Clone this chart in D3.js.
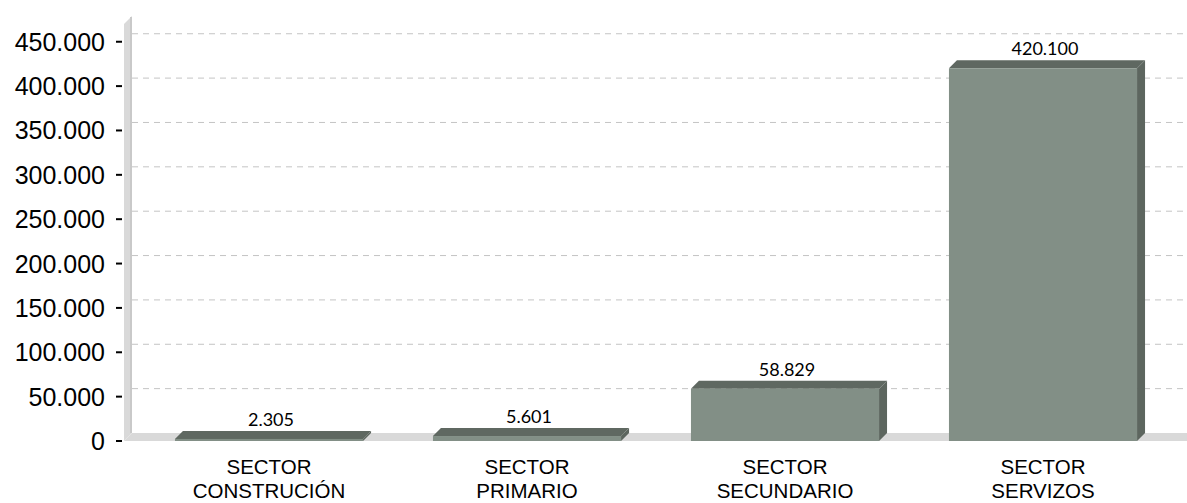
<!DOCTYPE html>
<html><head><meta charset="utf-8">
<script src="https://cdn.jsdelivr.net/npm/d3@7"></script>
<style>html,body{margin:0;padding:0;background:#fff;}svg{display:block;}</style>
</head><body>
<svg id="c" width="1187" height="503"></svg>
<script>
const categories = [["SECTOR","CONSTRUCIÓN"],["SECTOR","PRIMARIO"],["SECTOR","SECUNDARIO"],["SECTOR","SERVIZOS"]];
const values = [2305, 5601, 58829, 420100];
const valueLabels = ["2.305","5.601","58.829","420.100"];
const tickValues = [0,50000,100000,150000,200000,250000,300000,350000,400000,450000];
const tickLabels = ["0","50.000","100.000","150.000","200.000","250.000","300.000","350.000","400.000","450.000"];

const svg = d3.select("#c");
const D = 8; // depth offset
const y = d3.scaleLinear().domain([0, 470000]).range([441, 24]);
const x = d3.scaleBand().domain(d3.range(categories.length)).range([140, 1172]).paddingInner(0.271).paddingOuter(0.1355);
const wallX = 124, rightX = 1187;

// back-wall gridlines
svg.append("g").selectAll("line").data(tickValues.slice(1)).join("line")
  .attr("x1", wallX + D).attr("x2", rightX)
  .attr("y1", d => y(d) - D).attr("y2", d => y(d) - D)
  .attr("stroke", "#c4c4c4").attr("stroke-width", 1).attr("stroke-dasharray", "6,5");

// side wall
svg.append("polygon")
  .attr("points", [[wallX, y.range()[1]], [wallX + D, y.range()[1] - D], [wallX + D, y(0) - D], [wallX, y(0)]].join(" "))
  .attr("fill", "#d9d9d9");
svg.append("line").attr("x1", wallX + D - 1).attr("x2", wallX + D - 1)
  .attr("y1", y.range()[1] - D + 1).attr("y2", y(0) - D).attr("stroke", "#c9c9c9").attr("stroke-width", 2);

// floor
svg.append("polygon")
  .attr("points", [[wallX, y(0)], [wallX + D, y(0) - D], [rightX, y(0) - D], [rightX, y(0)]].join(" "))
  .attr("fill", "#d9d9d9");

// y axis ticks and labels
const ya = svg.append("g");
ya.selectAll("line").data(tickValues).join("line")
  .attr("x1", 116).attr("x2", 122).attr("y1", d => y(d)).attr("y2", d => y(d))
  .attr("stroke", "#000").attr("stroke-width", 2);
ya.selectAll("text").data(tickValues).join("text")
  .attr("x", 105).attr("y", d => y(d)).attr("dy", "0.36em")
  .attr("text-anchor", "end").attr("font-family", "Liberation Sans, Arial, sans-serif")
  .attr("font-size", 25).attr("fill", "#000")
  .text((d, i) => tickLabels[i]);

// bars
const bw = x.bandwidth();
const bars = svg.append("g").selectAll("g").data(values).join("g");
bars.append("polygon") // top
  .attr("points", (d, i) => { const x0 = x(i), x1 = x0 + bw, yv = y(d);
    return [[x0, yv], [x0 + D, yv - D], [x1 + D, yv - D], [x1, yv]].join(" "); })
  .attr("fill", "#5f6861");
bars.append("polygon") // side
  .attr("points", (d, i) => { const x1 = x(i) + bw, yv = y(d);
    return [[x1, yv], [x1 + D, yv - D], [x1 + D, y(0) - D], [x1, y(0)]].join(" "); })
  .attr("fill", "#5d665f");
bars.append("rect") // front
  .attr("x", (d, i) => x(i)).attr("width", bw)
  .attr("y", d => y(d)).attr("height", d => y(0) - y(d))
  .attr("fill", "#828f86");

// value labels
svg.append("g").selectAll("text").data(values).join("text")
  .attr("x", (d, i) => x(i) + bw / 2 + D / 2 - 2)
  .attr("y", d => y(d) - D - 5)
  .attr("text-anchor", "middle").attr("font-family", "Lato, Carlito, sans-serif")
  .attr("font-size", 18).attr("fill", "#000")
  .text((d, i) => valueLabels[i]);

// category labels
const cl = svg.append("g").selectAll("text").data(categories).join("text")
  .attr("text-anchor", "middle").attr("font-family", "Liberation Sans, Arial, sans-serif")
  .attr("font-size", 20.5).attr("fill", "#000");
cl.selectAll("tspan").data((d, i) => d.map(t => ({t, i}))).join("tspan")
  .attr("x", d => x(d.i) + bw / 2)
  .attr("y", (d, j) => 474 + j * 24)
  .text(d => d.t);
</script>
</body></html>
